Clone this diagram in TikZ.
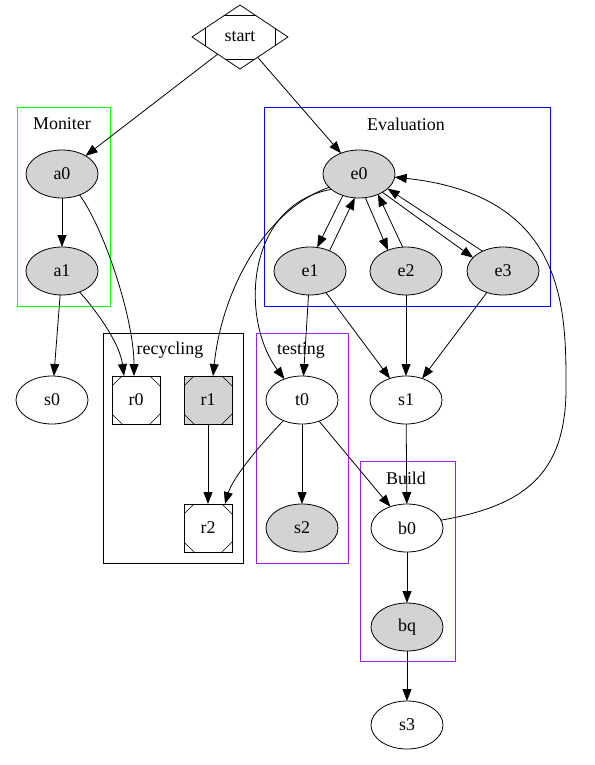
\documentclass[tikz,border=0pt]{standalone}
\usepackage{fontspec}
\setmainfont{Liberation Serif}
\usetikzlibrary{shapes.geometric,arrows.meta}
\definecolor{lg}{RGB}{211,211,211}
\definecolor{gvpurple}{RGB}{160,32,240}
\begin{document}
\begin{tikzpicture}[x=1bp,y=-1bp,
  every node/.style={font=\fontsize{18}{20}\selectfont, inner sep=0pt, outer sep=0pt},
  ell/.style={ellipse, draw, minimum width=72bp, minimum height=48bp, line width=0.8bp},
  gr/.style={fill=lg},
  msq/.style={rectangle, draw, minimum size=48bp, line width=0.8bp,
    path picture={
      \draw[line width=0.6bp] ([xshift=10bp]path picture bounding box.north west) -- ([yshift=-10bp]path picture bounding box.north west);
      \draw[line width=0.6bp] ([xshift=-10bp]path picture bounding box.north east) -- ([yshift=-10bp]path picture bounding box.north east);
      \draw[line width=0.6bp] ([xshift=10bp]path picture bounding box.south west) -- ([yshift=10bp]path picture bounding box.south west);
      \draw[line width=0.6bp] ([xshift=-10bp]path picture bounding box.south east) -- ([yshift=10bp]path picture bounding box.south east);
    }},
  cluster/.style={rectangle, draw, line width=0.8bp},
  e/.style={-{Triangle[length=12bp,width=9bp]}, line width=0.8bp}
]
\useasboundingbox (0,0) rectangle (595,765);

% clusters
\node[cluster, draw={rgb,255:red,0;green,255;blue,0}, minimum width=93bp, minimum height=199bp] (cMon) at (63.5,206.5) {};
\node (lMon) at (62,124) {Moniter};
\node[cluster, draw={rgb,255:red,0;green,0;blue,255}, minimum width=286bp, minimum height=199bp] (cEval) at (407,206.5) {};
\node (lEval) at (406,124) {Evaluation};
\node[cluster, draw=black, minimum width=140bp, minimum height=230bp] (cRec) at (173,448) {};
\node (lRec) at (170,350) {recycling};
\node[cluster, draw=gvpurple, minimum width=92bp, minimum height=230bp] (cTest) at (302,448) {};
\node (lTest) at (301,350) {testing};
\node[cluster, draw=gvpurple, minimum width=95bp, minimum height=200bp] (cBuild) at (407.5,561) {};
\node (lBuild) at (406,478) {Build};

% nodes
\node[diamond, draw, line width=0.8bp, minimum width=96bp, minimum height=64bp] (start) at (240,37) {start};
\draw[line width=0.6bp] ([shift={(-15bp,-10bp)}]start.north) -- ([shift={(15bp,-10bp)}]start.north);
\draw[line width=0.6bp] ([shift={(-15bp,10bp)}]start.south) -- ([shift={(15bp,10bp)}]start.south);
\draw[line width=0.6bp] ([shift={(13bp,8.7bp)}]start.west) -- ([shift={(13bp,-8.7bp)}]start.west);
\draw[line width=0.6bp] ([shift={(-13bp,8.7bp)}]start.east) -- ([shift={(-13bp,-8.7bp)}]start.east);

\node[ell, gr] (a0) at (62,174) {a0};
\node[ell, gr] (a1) at (62,271) {a1};
\node[ell, gr] (e0) at (359,174) {e0};
\node[ell, gr] (e1) at (310,271) {e1};
\node[ell, gr] (e2) at (406,271) {e2};
\node[ell, gr] (e3) at (503,271) {e3};
\node[ell] (s0) at (52,400) {s0};
\node[msq] (r0) at (136,400) {r0};
\node[msq, gr] (r1) at (208,400) {r1};
\node[msq] (r2) at (208,528) {r2};
\node[ell] (t0) at (302,400) {t0};
\node[ell, gr] (s2) at (302,528) {s2};
\node[ell] (s1) at (406,400) {s1};
\node[ell] (b0) at (407,528) {b0};
\node[ell, gr] (bq) at (407,627) {bq};
\node[ell] (s3) at (407,725) {s3};

% edges
\draw[e] (start) -- (a0);
\draw[e] (start) -- (e0);
\draw[e] (a0) -- (a1);
\draw[e] (a0.-50) .. controls (105,230) and (134,320) .. ([xshift=-2bp]r0.north);
\draw[e] (a1.-50) .. controls (100,315) and (120,345) .. ([xshift=-12bp]r0.north);
\draw[e] (a1) -- (s0);
\draw[e] (e0.-127) -- (e1.73);
\draw[e] (e1.46) -- (e0.-100);
\draw[e] (e0.-75) -- (e2.131);
\draw[e] (e2.98) -- (e0.-47);
\draw[e] (e0.-38) -- (e3.156);
\draw[e] (e3.136) -- (e0.-27);
\draw[e] (e0.-156) .. controls (265,210) and (222,290) .. ([xshift=5bp]r1.north);
\draw[e] (e0.-151) .. controls (245,205) and (240,320) .. (t0.130);
\draw[e] (e1) -- (t0);
\draw[e] (e1) -- (s1);
\draw[e] (e2) -- (s1);
\draw[e] (e3) -- (s1);
\draw[e] (r1) -- (r2);
\draw[e] (t0) -- (s2);
\draw[e] (t0.-132) .. controls (255,450) and (232,480) .. ([xshift=17bp]r2.north);
\draw[e] (t0.-51) -- (b0.128);
\draw[e] (s1) -- (b0);
\draw[e] (b0.13) .. controls (530,505) and (568,470) .. (566,380) .. controls (566,300) and (560,195) .. (e0.-5);
\draw[e] (b0) -- (bq);
\draw[e] (bq) -- (s3);
\end{tikzpicture}
\end{document}
